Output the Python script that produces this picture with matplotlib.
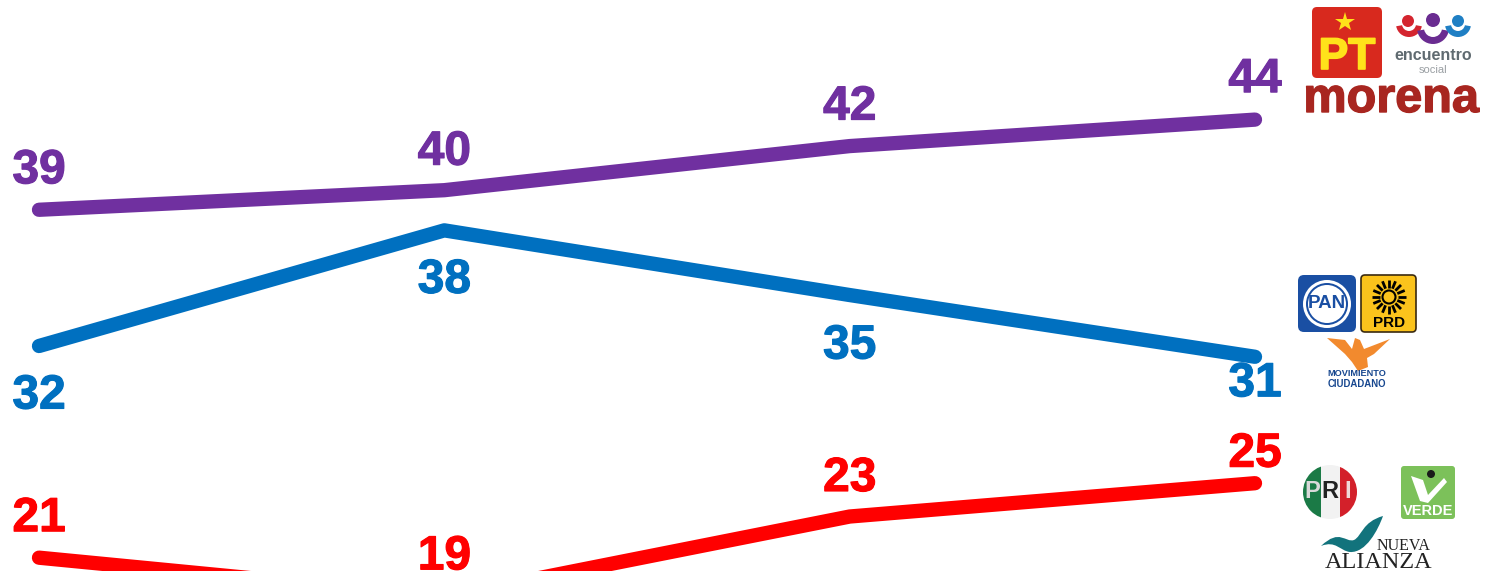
import matplotlib
matplotlib.use("Agg")
import matplotlib.patheffects as pe
import matplotlib.pyplot as plt
import numpy as np
from matplotlib.patches import Circle, FancyBboxPatch, PathPatch, Polygon, Rectangle, Wedge
from matplotlib.path import Path

plt.rcParams["font.family"] = ["Liberation Sans", "DejaVu Sans"]

W, H = 1493, 571

positions = [0, 1, 2, 3]

morena_values = [38.95, 39.95, 42.2, 43.55]
frente_values = [32.0, 37.9, 34.6, 31.45]
pri_values = [21.2, 19.2, 23.3, 25.0]

morena_labels = ["39", "40", "42", "44"]
frente_labels = ["32", "38", "35", "31"]
pri_labels = ["21", "19", "23", "25"]

PURPLE = "#7030a0"
BLUE = "#0070c0"
RED = "#ff0000"


def rounded(ax, x0, y0, x1, y1, color, edge="none", pad=4, lw=0):
    ax.add_patch(FancyBboxPatch((x0 + pad, y0 + pad), x1 - x0 - 2 * pad, y1 - y0 - 2 * pad,
                                boxstyle=f"round,pad={pad}", fc=color, ec=edge, lw=lw))


def draw_series(ax, values, labels, offsets, color):
    # Agg cuts an unfilled path at the canvas edge and puts round caps there,
    # so give it an invisible face to keep the red line running off the bottom
    line = Path(np.column_stack([positions, values]))
    ax.add_patch(PathPatch(line, fc=(1, 1, 1, 0.001), ec=color, lw=10.3, capstyle="round", joinstyle="round"))
    for x, v, s, dy in zip(positions, values, labels, offsets):
        # offsets are in pixels, figure runs at dpi 100
        ax.annotate(s, (x, v), xytext=(0, dy * 0.72), textcoords="offset points",
                    ha="center", va="center", color=color, fontsize=34.5, fontweight="bold",
                    annotation_clip=False,
                    path_effects=[pe.withStroke(linewidth=0.8, foreground=color)])


def draw_coalition_morena(ax):
    rounded(ax, 1312, 7, 1382, 78, "#d8291e", pad=5)
    ax.plot([1345], [22], marker="*", ms=15, color="#ffe21a", mew=0)
    ax.text(1347, 69, "PT", color="#ffe21a", fontsize=32, fontweight="bold", ha="center", va="baseline",
            path_effects=[pe.withStroke(linewidth=1.2, foreground="#ffe21a")])
    ax.text(1391, 112, "morena", color="#a82620", fontsize=35, fontweight="bold", ha="center", va="baseline",
            path_effects=[pe.withStroke(linewidth=1, foreground="#a82620")])
    # encuentro social: heads and crescents
    for cx, cy, r, c in [(1408, 21, 6, "#d4252f"), (1433, 20, 7, "#6a2c91"), (1458, 21, 6, "#1f7fc4")]:
        ax.add_patch(Circle((cx, cy), r, fc=c, ec="none"))
    ax.add_patch(Wedge((1409, 24), 13, 10, 170, width=6, fc="#d4252f", ec="none"))
    ax.add_patch(Wedge((1433, 28), 16, 10, 170, width=7, fc="#6a2c91", ec="none"))
    ax.add_patch(Wedge((1458, 24), 13, 10, 170, width=6, fc="#1f7fc4", ec="none"))
    ax.text(1433, 56, "encuentro", color="#5f6a70", fontsize=11.5, fontweight="bold", ha="center", va="center")
    ax.text(1433, 70, "social", color="#9a9fa3", fontsize=8, ha="center", va="center")


def draw_coalition_frente(ax):
    rounded(ax, 1298, 275, 1356, 332, "#1a4fa3", pad=6)
    ax.add_patch(Circle((1327, 304), 24, fc="white", ec="none"))
    ax.add_patch(Circle((1327, 304), 21, fc="#1a4fa3", ec="none"))
    ax.add_patch(Circle((1327, 304), 19, fc="white", ec="none"))
    ax.text(1327, 304, "PAN", color="#1a4fa3", fontsize=13.5, fontweight="bold", ha="center", va="center")

    rounded(ax, 1361, 275, 1416, 332, "#fbc31c", edge="#3a2a10", pad=4, lw=1.2)
    for a in np.linspace(0, 2 * np.pi, 16, endpoint=False):
        ax.plot([1389 + 9 * np.cos(a), 1389 + 17 * np.cos(a)],
                [297 + 9 * np.sin(a), 297 + 17 * np.sin(a)],
                color="black", lw=2, solid_capstyle="butt")
    ax.add_patch(Circle((1389, 297), 6.5, fc="#fbc31c", ec="black", lw=1.5))
    ax.text(1389, 323, "PRD", color="black", fontsize=11, fontweight="bold", ha="center", va="center")

    # movimiento ciudadano eagle
    ax.add_patch(Polygon([(1327, 338), (1345, 340), (1352, 349), (1355, 338), (1360, 340),
                          (1364, 349), (1390, 339), (1374, 354), (1367, 358), (1368, 367),
                          (1358, 371), (1352, 362), (1345, 354)], fc="#f28a2e", ec="none"))
    ax.text(1357, 374, "MOVIMIENTO", color="#17478f", fontsize=6.6, fontweight="bold", ha="center", va="center")
    ax.text(1357, 384, "CIUDADANO", color="#17478f", fontsize=6.9, fontweight="bold", ha="center", va="center")


def draw_coalition_pri(ax):
    disc = Circle((1330, 492), 27, transform=ax.transData, fc="none", ec="none")
    ax.add_patch(disc)
    for x0, w, c in [(1303, 18, "#1b7a46"), (1321, 19, "#f2f2f2"), (1340, 17, "#d3202a")]:
        strip = Rectangle((x0, 465), w, 54, fc=c, ec="none")
        ax.add_patch(strip)
        strip.set_clip_path(disc)
    for x, s, c in [(1312, "P", "#d9d9d9"), (1330, "R", "#222222"), (1348, "I", "#f0d8d8")]:
        ax.text(x, 491, s, color=c, fontsize=17, fontweight="bold", ha="center", va="center")

    rounded(ax, 1401, 466, 1455, 519, "#7cc15a", pad=3)
    ax.add_patch(Polygon([(1411, 476), (1423, 480), (1428, 495), (1444, 478), (1447, 482),
                          (1428, 503), (1420, 501)], fc="white", ec="none"))
    ax.add_patch(Circle((1431, 474), 4, fc="#1a1a1a", ec="none"))
    ax.text(1428, 511, "VERDE", color="white", fontsize=10.5, fontweight="bold", ha="center", va="center")

    swoosh = Path([(1321, 546), (1340, 528), (1345, 543), (1354, 540),
                   (1362, 536), (1362, 522), (1383, 516),
                   (1378, 530), (1366, 553), (1350, 552),
                   (1340, 551), (1336, 540), (1321, 546)],
                  [Path.MOVETO, Path.CURVE4, Path.CURVE4, Path.CURVE4,
                   Path.CURVE4, Path.CURVE4, Path.CURVE4,
                   Path.CURVE4, Path.CURVE4, Path.CURVE4,
                   Path.CURVE4, Path.CURVE4, Path.CURVE4])
    ax.add_patch(PathPatch(swoosh, fc="#12737c", ec="none"))
    ax.text(1404, 546, "NUEVA", color="#222222", fontsize=11.5, family="Liberation Serif", ha="center", va="center")
    ax.text(1379, 562, "ALIANZA", color="#222222", fontsize=17.5, family="Liberation Serif", ha="center", va="center")


def main():
    fig = plt.figure(figsize=(W / 100, H / 100), dpi=100)
    ax = fig.add_axes([0, 0, 1, 1])
    step = (1255 - 39) / 3
    ax.set_xlim(-39 / step, (W - 39) / step)
    # 19.6 px per point, 32 sits at pixel row 346
    ax.set_ylim(32 - (H - 346) / 19.6, 32 + 346 / 19.6)
    ax.axis("off")

    draw_series(ax, morena_values, morena_labels, [39, 38, 39, 40], PURPLE)
    draw_series(ax, frente_values, frente_labels, [-50, -50, -51, -27], BLUE)
    draw_series(ax, pri_values, pri_labels, [39, 40, 38, 29], RED)

    logos = fig.add_axes([0, 0, 1, 1], facecolor="none")
    logos.set_xlim(0, W)
    logos.set_ylim(H, 0)
    logos.axis("off")
    draw_coalition_morena(logos)
    draw_coalition_frente(logos)
    draw_coalition_pri(logos)

    fig.savefig("out.png", dpi=100)
    plt.close(fig)


if __name__ == "__main__":
    main()
